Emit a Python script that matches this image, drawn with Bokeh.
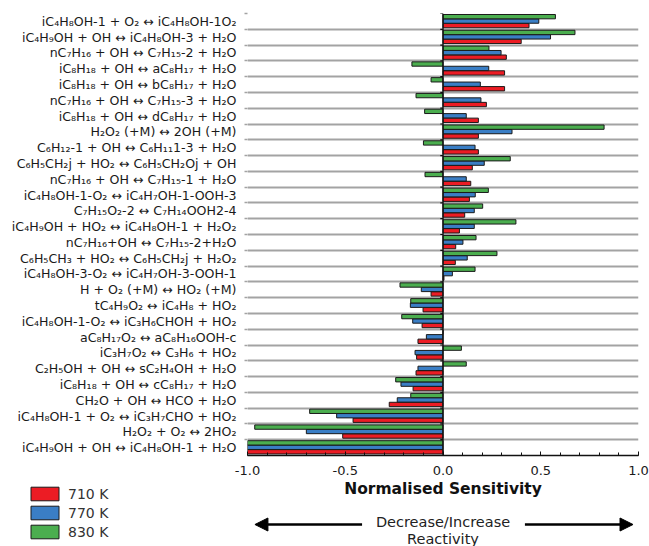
from bokeh.plotting import figure
from bokeh.layouts import column
from bokeh.models import (ColumnDataSource, Range1d, FixedTicker, NumeralTickFormatter,
                          Span, Legend, LegendItem, Label, Arrow, NormalHead)
from bokeh.embed import file_html
from bokeh.resources import INLINE

# ---------------- data (top to bottom) ----------------
reactions = [
    "iC₄H₈OH-1 + O₂ ↔ iC₄H₈OH-1O₂",
    "iC₄H₉OH + OH ↔ iC₄H₈OH-3 + H₂O",
    "nC₇H₁₆ + OH ↔ C₇H₁₅-2 + H₂O",
    "iC₈H₁₈ + OH ↔ aC₈H₁₇ + H₂O",
    "iC₈H₁₈ + OH ↔ bC₈H₁₇ + H₂O",
    "nC₇H₁₆ + OH ↔ C₇H₁₅-3 + H₂O",
    "iC₈H₁₈ + OH ↔ dC₈H₁₇ + H₂O",
    "H₂O₂ (+M) ↔ 2OH (+M)",
    "C₆H₁₂-1 + OH ↔ C₆H₁₁1-3 + H₂O",
    "C₆H₅CH₂j + HO₂ ↔ C₆H₅CH₂Oj + OH",
    "nC₇H₁₆ + OH ↔ C₇H₁₅-1 + H₂O",
    "iC₄H₈OH-1-O₂ ↔ iC₄H₇OH-1-OOH-3",
    "C₇H₁₅O₂-2 ↔ C₇H₁₄OOH2-4",
    "iC₄H₉OH + HO₂ ↔ iC₄H₈OH-1 + H₂O₂",
    "nC₇H₁₆+OH ↔ C₇H₁₅-2+H₂O",
    "C₆H₅CH₃ + HO₂ ↔ C₆H₅CH₂j + H₂O₂",
    "iC₄H₈OH-3-O₂ ↔ iC₄H₇OH-3-OOH-1",
    "H + O₂ (+M) ↔ HO₂ (+M)",
    "tC₄H₉O₂ ↔ iC₄H₈ + HO₂",
    "iC₄H₈OH-1-O₂ ↔ iC₃H₆CHOH + HO₂",
    "aC₈H₁₇O₂ ↔ aC₈H₁₆OOH-c",
    "iC₃H₇O₂ ↔ C₃H₆ + HO₂",
    "C₂H₅OH + OH ↔ sC₂H₄OH + H₂O",
    "iC₈H₁₈ + OH ↔ cC₈H₁₇ + H₂O",
    "CH₂O + OH ↔ HCO + H₂O",
    "iC₄H₈OH-1 + O₂ ↔ iC₃H₇CHO + HO₂",
    "H₂O₂ + O₂ ↔ 2HO₂",
    "iC₄H₉OH + OH ↔ iC₄H₈OH-1 + H₂O",
]

s710 = [0.44, 0.40, 0.324, 0.315, 0.315, 0.222, 0.181, 0.181, 0.181, 0.150,
        0.142, 0.135, 0.111, 0.084, 0.065, 0.063, 0.005, -0.061, -0.102, -0.107,
        -0.128, -0.135, -0.138, -0.153, -0.275, -0.460, -0.513, -1.0]
s770 = [0.49, 0.55, 0.297, 0.234, 0.191, 0.194, 0.119, 0.353, 0.164, 0.211,
        0.119, 0.165, 0.160, 0.160, 0.102, 0.124, 0.048, -0.111, -0.167, -0.155,
        -0.085, -0.143, -0.128, -0.215, -0.234, -0.544, -0.699, -1.0]
s830 = [0.575, 0.675, 0.235, -0.159, -0.061, -0.138, -0.094, 0.824, -0.10, 0.344,
        -0.092, 0.232, 0.203, 0.373, 0.169, 0.276, 0.164, -0.22, -0.165, -0.211,
        0.0, 0.094, 0.119, -0.242, -0.165, -0.682, -0.963, -1.0]

series_names = ["710 K", "770 K", "830 K"]
x_ticks = [-1.0, -0.5, 0.0, 0.5, 1.0]

# ---------------- styling ----------------
COL = {"710 K": "#ec1c24", "770 K": "#3a7ec5", "830 K": "#4bae4f"}
OFFS = {"710 K": -0.266, "770 K": 0.02, "830 K": 0.30}
FONT = "DejaVu Sans"
W = 649
LEFT, RIGHT, TOP, BOTTOM = 247, 11, 13, 25
H1 = 480
H2 = 546 - H1

n = len(reactions)
centers = [n - i - 0.5 for i in range(n)]
bounds = [float(k) for k in range(1, n + 1)]

p = figure(width=W, height=H1, output_backend="svg", toolbar_location=None,
           x_range=Range1d(-1.0, 1.0), y_range=Range1d(0, n),
           min_border_left=LEFT, min_border_right=RIGHT, min_border_top=TOP,
           min_border_bottom=BOTTOM, frame_align=False)
p.outline_line_color = None
p.background_fill_color = "white"
p.border_fill_color = "white"

renderers = {}
for name, vals in zip(series_names, [s710, s770, s830]):
    src = ColumnDataSource(dict(y=[c + OFFS[name] for c in centers], v=vals))
    renderers[name] = p.hbar(y="y", right="v", left=0, height=0.275, source=src,
                             fill_color=COL[name], line_color="#1a1a1a", line_width=1)

# grid lines between categories
p.xgrid.visible = False
p.ygrid.ticker = FixedTicker(ticks=bounds[:-1])
p.ygrid.grid_line_color = "#a3a3a3"
p.ygrid.grid_line_width = 1.8
p.ygrid.level = "underlay"

# zero line with small ticks
p.add_layout(Span(location=0, dimension="height", line_color="#111111", line_width=1.4))
p.segment(x0=[-0.014] * n, x1=[0.0] * n, y0=bounds, y1=bounds,
          line_color="#111111", line_width=1.2)

# left axis: labels
ya = p.yaxis[0]
ya.ticker = FixedTicker(ticks=centers, minor_ticks=bounds)
ya.major_label_overrides = {c: r for c, r in zip(centers, reactions)}
ya.major_label_text_font = FONT
ya.major_label_text_font_size = "12.6px"
ya.major_label_text_color = "#1a1a1a"
ya.major_tick_out = 0
ya.major_tick_in = 0
ya.minor_tick_out = 3
ya.minor_tick_in = 0
ya.minor_tick_line_color = "#a3a3a3"
ya.minor_tick_line_width = 1.5
ya.axis_line_color = None
ya.major_label_standoff = 8

# bottom axis
xa = p.xaxis[0]
xa.ticker = FixedTicker(ticks=x_ticks, minor_ticks=[k / 10 for k in range(-10, 11)])
xa.formatter = NumeralTickFormatter(format="0.0")
xa.major_label_text_font = FONT
xa.major_label_text_font_size = "13px"
xa.major_label_text_color = "#1a1a1a"
xa.axis_line_color = "#111111"
xa.axis_line_width = 1.4
xa.major_tick_in = 4
xa.major_tick_out = 0
xa.minor_tick_in = 3
xa.minor_tick_out = 0
xa.major_tick_line_color = "#111111"
xa.minor_tick_line_color = "#111111"
xa.major_label_standoff = 10

# ---------------- lower panel: axis title, legend, arrows ----------------
ppu = (W - LEFT - RIGHT) / 2.0  # pixels per sensitivity unit
q = figure(width=W, height=H2, output_backend="svg", toolbar_location=None,
           x_range=Range1d(-1.0 - LEFT / ppu, 1.0 + RIGHT / ppu),
           y_range=Range1d(H2, 0),
           min_border_left=0, min_border_right=0, min_border_top=0, min_border_bottom=0,
           frame_align=False)
q.outline_line_color = None
q.axis.visible = False
q.grid.visible = False
q.border_fill_color = "white"

q.add_layout(Label(x=0, y=488 - H1, text="Normalised Sensitivity", text_align="center",
                   text_baseline="middle", text_font=FONT, text_font_style="bold",
                   text_font_size="15.5px", text_color="#111111"))

dummy = {}
for name in series_names:
    dummy[name] = q.hbar(y=[0], right=[0], left=[0], height=0, fill_color=COL[name],
                         line_color="#1a1a1a", line_width=1)
legend = Legend(items=[LegendItem(label=nm, renderers=[dummy[nm]]) for nm in series_names],
                location=(27, 6), orientation="vertical",
                glyph_width=35, glyph_height=17, spacing=2, padding=0, margin=0,
                label_standoff=6, label_text_font=FONT, label_text_font_size="14px",
                label_text_color="#333333", label_height=17,
                background_fill_alpha=0, border_line_color=None)
q.add_layout(legend, "center")

y_arrow = 524 - H1
for xs, xe in [(-0.414, -0.962), (0.419, 0.972)]:
    q.add_layout(Arrow(x_start=xs, y_start=y_arrow, x_end=xe, y_end=y_arrow,
                       line_color="black", line_width=2.4,
                       end=NormalHead(size=13, fill_color="black", line_color="black")))
q.add_layout(Label(x=0, y=521.5 - H1, text="Decrease/Increase",
                   text_align="center", text_baseline="middle", text_font=FONT,
                   text_font_size="14.5px", text_color="#222222"))
q.add_layout(Label(x=0, y=538.5 - H1, text="Reactivity",
                   text_align="center", text_baseline="middle", text_font=FONT,
                   text_font_size="14.5px", text_color="#222222"))

layout = column(p, q, spacing=0)
open("out.html", "w").write(file_html(layout, INLINE))
